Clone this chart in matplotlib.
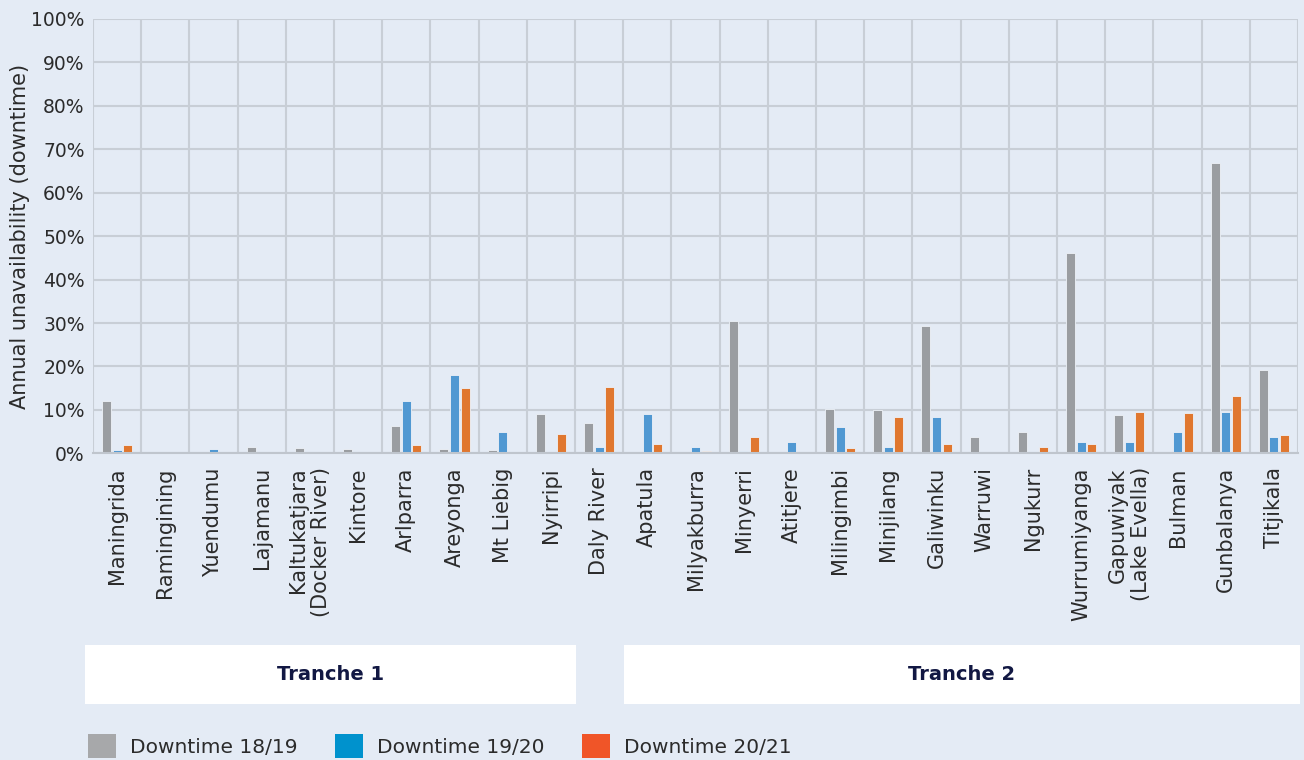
import matplotlib
matplotlib.use("Agg")
import matplotlib.pyplot as plt
from matplotlib.patches import Rectangle, Patch
import numpy as np

categories = ["Maningrida", "Ramingining", "Yuendumu", "Lajamanu",
              "Kaltukatjara\n(Docker River)", "Kintore", "Arlparra", "Areyonga",
              "Mt Liebig", "Nyirripi", "Daly River", "Apatula", "Milyakburra",
              "Minyerri", "Atitjere", "Milingimbi", "Minjilang", "Galiwinku",
              "Warruwi", "Ngukurr", "Wurrumiyanga", "Gapuwiyak\n(Lake Evella)",
              "Bulman", "Gunbalanya", "Titjikala"]

downtime_1819 = [12.1, 0, 0, 1.5, 1.3, 1.1, 6.4, 1.1, 0.7, 9.1, 6.9,
                 0, 0.3, 30.4, 0, 10.1, 9.9, 29.3, 3.7, 5.0, 46.1, 8.8, 0, 66.8, 19.1]
downtime_1920 = [0.7, 0, 0.9, 0, 0, 0, 12.0, 18.0, 5.0, 0, 1.5,
                 9.1, 1.5, 0.5, 2.5, 6.1, 1.5, 8.4, 0, 0, 2.7, 2.5, 4.8, 9.4, 3.7]
downtime_2021 = [1.8, 0, 0, 0, 0, 0, 1.8, 15.0, 0, 4.5, 15.2,
                 2.2, 0.5, 3.7, 0, 1.3, 8.4, 2.2, 0, 1.5, 2.2, 9.4, 9.3, 13.1, 4.1]

series_labels = ["Downtime 18/19", "Downtime 19/20", "Downtime 20/21"]
bar_colors = ["#9a9da1", "#5098d2", "#e0772f"]
legend_colors = ["#a7a8aa", "#0092cd", "#f05528"]
yticks = list(range(0, 101, 10))
group_labels = ["Tranche 1", "Tranche 2"]

BG = "#e4ebf5"
GRID = "#c8ced6"
TXT = "#2b2b2b"
FONT = "DejaVu Sans"

plt.rcParams['font.family'] = [FONT]

W, H = 1304, 760
fig = plt.figure(figsize=(W / 100, H / 100), dpi=100, facecolor=BG)

x0, x1, ytop, ybot = 93, 1298, 19, 453.3
ax = fig.add_axes([x0 / W, 1 - ybot / H, (x1 - x0) / W, (ybot - ytop) / H])
ax.set_facecolor(BG)

n = len(categories)
x = np.arange(n)
bw = 0.19
off = 0.22
for i, (vals, c) in enumerate(zip([downtime_1819, downtime_1920, downtime_2021], bar_colors)):
    ax.bar(x + (i - 1) * off, vals, width=bw, color=c, edgecolor="#eef2f8",
           linewidth=0.6, zorder=3)

ax.set_xlim(-0.5, n - 0.5)
ax.set_ylim(0, 100)
ax.set_yticks(yticks)
ax.set_yticklabels([f"{t}%" for t in yticks], fontsize=13.5, color=TXT)
ax.set_xticks(x)
ax.set_xticklabels(categories, rotation=90, fontsize=15, color=TXT,
                   multialignment="right")
ax.set_xticks(np.arange(-0.5, n, 1.0), minor=True)
ax.tick_params(axis="both", which="both", length=0)
ax.tick_params(axis="x", which="major", pad=10)
ax.tick_params(axis="y", pad=6)
ax.grid(axis="y", which="major", color=GRID, linewidth=1.5, zorder=0)
ax.grid(axis="x", which="minor", color=GRID, linewidth=1.5, zorder=0)
ax.grid(axis="x", which="major", visible=False)
for s in ["top", "right", "left"]:
    ax.spines[s].set_visible(False)
ax.spines["bottom"].set_color("#bfc5cd")
ax.spines["bottom"].set_linewidth(1.5)
ax.spines["bottom"].set_zorder(4)
ax.set_ylabel("Annual unavailability (downtime)", fontsize=15, color=TXT)
ax.yaxis.set_label_coords((30 - x0) / (x1 - x0), 0.5)

# Tranche boxes
boxes = [(85, 576), (624, 1300)]
by0, by1 = 645, 704
for (bx0, bx1), lab in zip(boxes, group_labels):
    fig.add_artist(Rectangle((bx0 / W, 1 - by1 / H), (bx1 - bx0) / W, (by1 - by0) / H,
                             transform=fig.transFigure, facecolor="white",
                             edgecolor="none"))
    fig.text((bx0 + bx1) / 2 / W, 1 - (by0 + by1) / 2 / H, lab, ha="center", va="center",
             fontsize=14, fontweight="bold", color="#121843")

handles = [Patch(facecolor=c, edgecolor="none") for c in legend_colors]
fig.legend(handles, series_labels, loc="center left",
           bbox_to_anchor=(88 / W, 1 - 746 / H), ncol=3, frameon=False,
           fontsize=14.5, handlelength=1.4, handleheight=1.4,
           handletextpad=0.7, columnspacing=1.85, labelcolor=TXT,
           borderaxespad=0, borderpad=0)

fig.savefig("out.png", dpi=100, facecolor=BG)
